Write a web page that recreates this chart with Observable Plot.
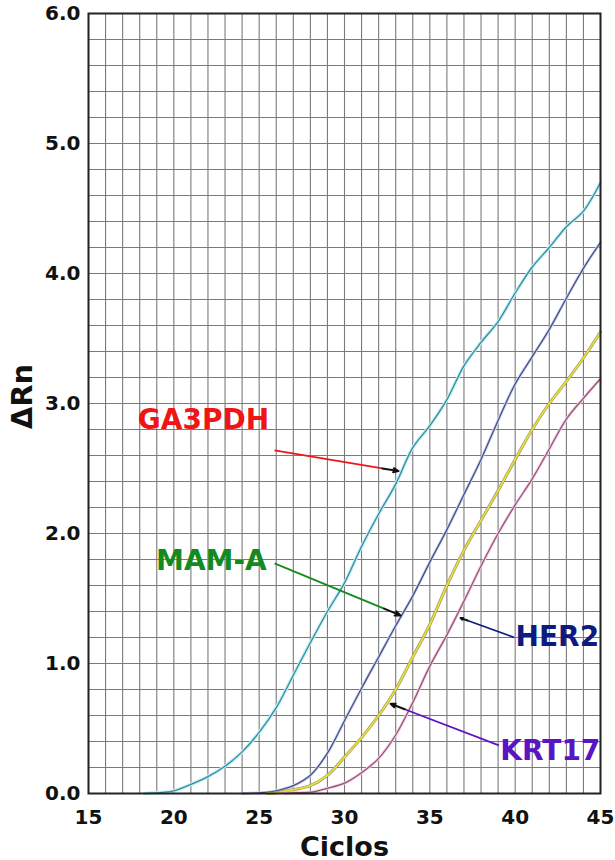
<!DOCTYPE html>
<html>
<head>
<meta charset="utf-8">
<script src="https://cdn.jsdelivr.net/npm/d3@7"></script>
<script src="https://cdn.jsdelivr.net/npm/@observablehq/plot@0.6"></script>
<style>
  html, body { margin: 0; padding: 0; background: #fff; }
  #chart svg { display: block; font-family: "DejaVu Sans", Verdana, sans-serif; }
</style>
</head>
<body>
<div id="chart"></div>
<script>
// Cycle numbers and ΔRn values
const cyclesGA3PDH = [18.3,19,20,21,22,23,24,25,26,27,28,29,30,31,32,33,34,35,36,37,38,39,40,41,42,43,44,45];
const valuesGA3PDH = [0,0.005,0.02,0.07,0.13,0.21,0.32,0.47,0.66,0.91,1.16,1.40,1.62,1.90,2.15,2.38,2.66,2.83,3.03,3.29,3.47,3.63,3.85,4.05,4.20,4.36,4.48,4.70];

const cyclesMAMA = [24,25,26,27,28,29,30,31,32,33,34,35,36,37,38,39,40,41,42,43,44,45];
const valuesMAMA = [0,0.005,0.02,0.06,0.14,0.31,0.56,0.81,1.05,1.29,1.52,1.78,2.03,2.30,2.57,2.87,3.15,3.36,3.57,3.81,4.04,4.24];

const cyclesKRT17 = [25.5,26,27,28,29,30,31,32,33,34,35,36,37,38,39,40,41,42,43,44,45];
const valuesKRT17 = [0,0.005,0.03,0.06,0.14,0.28,0.43,0.60,0.80,1.05,1.30,1.60,1.87,2.10,2.33,2.57,2.80,3.00,3.17,3.35,3.55];

const cyclesHER2 = [26.5,27,28,29,30,31,32,33,34,35,36,37,38,39,40,41,42,43,44,45];
const valuesHER2 = [0,0.005,0.01,0.04,0.08,0.16,0.27,0.45,0.70,0.98,1.22,1.48,1.75,2.00,2.22,2.42,2.65,2.88,3.04,3.19];

const xTicks = [15,20,25,30,35,40,45];
const yTicks = [0,1,2,3,4,5,6];

// Annotation labels (data space): name, label position, arrow start, arrow end
const labelNames = ["GA3PDH","MAM-A","HER2","KRT17"];
const labelColors = ["#f01414","#138a1e","#0c1a82","#5a14c4"];
const labelX = [21.74, 22.2, 42.47, 42.06];
const labelY = [2.87, 1.79, 1.20, 0.33];
const arrowX1 = [25.9, 25.9, 39.95, 39.05];
const arrowY1 = [2.64, 1.77, 1.20, 0.37];
const arrowX2 = [33.16, 33.28, 36.8, 32.7];
const arrowY2 = [2.48, 1.37, 1.35, 0.69];

const mk = (cs, vs) => cs.map((c, i) => ({c, v: vs[i]}));
const dGA = mk(cyclesGA3PDH, valuesGA3PDH);
const dMA = mk(cyclesMAMA, valuesMAMA);
const dKR = mk(cyclesKRT17, valuesKRT17);
const dHE = mk(cyclesHER2, valuesHER2);

const labels = labelNames.map((n, i) => ({
  name: n, color: labelColors[i], x: labelX[i], y: labelY[i],
  x1: arrowX1[i], y1: arrowY1[i], x2: arrowX2[i], y2: arrowY2[i],
  hx: arrowX1[i] + (arrowX2[i] - arrowX1[i]) * 0.87,
  hy: arrowY1[i] + (arrowY2[i] - arrowY1[i]) * 0.87
}));

const gridXs = d3.range(15, 46, 1);
const gridYs = d3.range(0, 31).map(i => i * 0.2);

const curve = "catmull-rom";

const chart = Plot.plot({
  width: 615,
  height: 860,
  marginLeft: 88,
  marginRight: 15,
  marginTop: 13,
  marginBottom: 67,
  x: {domain: [15, 45]},
  y: {domain: [0, 6]},
  marks: [
    Plot.gridX(gridXs, {stroke: "#7a7a7a", strokeOpacity: 1, strokeWidth: 1.1}),
    Plot.gridY(gridYs, {stroke: "#7a7a7a", strokeOpacity: 1, strokeWidth: 1.1}),
    Plot.axisX(xTicks, {tickSize: 0, tickPadding: 16, fontSize: 20, fontWeight: "bold", fill: "#111", label: null}),
    Plot.axisY(yTicks, {tickSize: 0, tickPadding: 8, fontSize: 20, fontWeight: "bold", fill: "#111", tickFormat: d3.format(".1f"), label: null}),
    // curves
    Plot.line(dGA, {x: "c", y: "v", stroke: "#c6edf4", strokeWidth: 3.5, curve}),
    Plot.line(dGA, {x: "c", y: "v", stroke: "#2f8ea0", strokeWidth: 1.3, curve}),
    Plot.line(dMA, {x: "c", y: "v", stroke: "#cfd6ec", strokeWidth: 3, curve}),
    Plot.line(dMA, {x: "c", y: "v", stroke: "#44508c", strokeWidth: 1.3, curve}),
    Plot.line(dKR, {x: "c", y: "v", stroke: "#9a9468", strokeWidth: 3, curve}),
    Plot.line(dKR, {x: "c", y: "v", stroke: "#e6dc3a", strokeWidth: 1.8, curve}),
    Plot.line(dHE, {x: "c", y: "v", stroke: "#eed0e0", strokeWidth: 3, curve}),
    Plot.line(dHE, {x: "c", y: "v", stroke: "#9e4f7e", strokeWidth: 1.3, curve}),
    Plot.frame({stroke: "#222", strokeWidth: 2}),
    // annotation arrows
    Plot.link(labels, {x1: "x1", y1: "y1", x2: "hx", y2: "hy", stroke: "color", strokeWidth: 1.7}),
    Plot.arrow(labels, {x1: "hx", y1: "hy", x2: "x2", y2: "y2", stroke: "#111", strokeWidth: 2, headLength: 12, headAngle: 45}),
    Plot.text(labels, {x: "x", y: "y", text: "name", fill: "color", fontSize: 28, fontWeight: "bold"}),
    // axis titles
    Plot.text(["Ciclos"], {frameAnchor: "bottom", dy: 62, fontSize: 27, fontWeight: "bold", fill: "#111"}),
    Plot.text(["ΔRn"], {frameAnchor: "left", textAnchor: "middle", lineAnchor: "middle", dx: -66, dy: -7, rotate: -90, fontSize: 29, fontWeight: "bold", fill: "#111"})
  ]
});
document.getElementById("chart").appendChild(chart);
</script>
</body>
</html>
